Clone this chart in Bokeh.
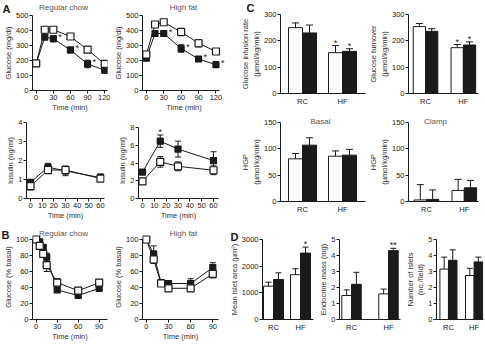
from bokeh.plotting import figure
from bokeh.layouts import row, column
from bokeh.models import (Range1d, FixedTicker, Whisker, TeeHead, ColumnDataSource,
                          LabelSet, GridBox)
from bokeh.core.properties import value
from bokeh.embed import file_html
from bokeh.resources import INLINE

FONT = "Liberation Sans"
INK = "#1a1a1a"
LABEL_INK = "#333333"
TITLE_INK = "#555555"

# ---------------- data ----------------
# A: glucose tolerance test (mg/dl)
gtt_time = [0, 15, 30, 60, 90, 120]
gtt_rc_ctrl = [181, 405, 405, 360, 272, 177]
gtt_rc_ctrl_err = [10, 12, 10, 12, 15, 15]
gtt_rc_mut = [180, 356, 345, 270, 177, 135]
gtt_rc_mut_err = [12, 15, 20, 20, 25, 20]
gtt_rc_sig = ["", "", "*", "*", "*", ""]
gtt_hf_ctrl = [240, 440, 455, 390, 315, 260]
gtt_hf_ctrl_err = [10, 12, 10, 25, 25, 20]
gtt_hf_mut = [215, 380, 380, 280, 210, 172]
gtt_hf_mut_err = [10, 20, 20, 25, 12, 8]
gtt_hf_sig = ["", "", "*", "*", "*", "*"]

# A: insulin during GTT (ng/ml)
ins_time = [0, 15, 30, 60]
ins_rc_ctrl = [0.65, 1.5, 1.5, 1.05]
ins_rc_ctrl_err = [0.2, 0.2, 0.2, 0.1]
ins_rc_mut = [0.85, 1.65, 1.45, 1.1]
ins_rc_mut_err = [0.15, 0.2, 0.25, 0.2]
ins_hf_ctrl = [1.95, 4.15, 3.65, 3.2]
ins_hf_ctrl_err = [0.3, 0.6, 0.5, 0.5]
ins_hf_mut = [3.0, 6.5, 5.6, 4.3]
ins_hf_mut_err = [0.2, 0.7, 0.9, 1.0]
ins_hf_sig = ["", "*", "", ""]

# B: insulin tolerance test (% basal)
itt_rc_time = [0, 5, 10, 15, 30, 60, 90]
itt_rc_ctrl = [100, 92, 82, 68, 46, 36, 46]
itt_rc_ctrl_err = [2, 3, 4, 8, 5, 3, 3]
itt_rc_mut = [100, 97, 90, 78, 37, 30, 39]
itt_rc_mut_err = [2, 3, 4, 5, 3, 2, 2]
itt_hf_time = [0, 10, 20, 30, 60, 90]
itt_hf_ctrl = [100, 75, 45, 39, 39, 57]
itt_hf_ctrl_err = [1, 5, 3, 3, 3, 5]
itt_hf_mut = [100, 82, 46, 45, 45, 65]
itt_hf_mut_err = [1, 10, 3, 3, 6, 6]

# C: clamp studies, D: islet morphometry
diet = ["RC", "HF"]
gir_ctrl, gir_ctrl_err = [250, 155], [18, 27]
gir_mut, gir_mut_err = [230, 160], [30, 10]
gir_sig_ctrl, gir_sig_mut = ["", "*"], ["", "*"]
turn_ctrl, turn_ctrl_err = [254, 174], [12, 12]
turn_mut, turn_mut_err = [236, 184], [10, 12]
turn_sig_ctrl, turn_sig_mut = ["", "*"], ["", "*"]
basal_ctrl, basal_ctrl_err = [81, 86], [10, 10]
basal_mut, basal_mut_err = [107, 88], [14, 11]
clamp_ctrl, clamp_ctrl_err = [3, 21], [29, 21]
clamp_mut, clamp_mut_err = [4, 26], [18, 14]
area_ctrl, area_ctrl_err = [1250, 1680], [150, 225]
area_mut, area_mut_err = [1500, 2490], [250, 225]
area_sig_mut = ["", "*"]
endo_ctrl, endo_ctrl_err = [1.5, 1.6], [0.35, 0.3]
endo_mut, endo_mut_err = [2.2, 4.3], [0.75, 0.15]
endo_sig_mut = ["", "**"]
num_ctrl, num_ctrl_err = [3.15, 2.75], [0.75, 0.45]
num_mut, num_mut_err = [3.7, 3.6], [0.65, 0.3]

# panel headings and letters
panel_letters = ["A", "B", "C", "D"]
diet_titles = ["Regular chow", "High fat"]
clamp_titles = ["Basal", "Clamp"]


# ---------------- helpers ----------------
def px_range(v0, p0, v1, p1, f0, f1):
    """Range whose frame edges (pixels f0, f1) map v0->p0 and v1->p1."""
    s = (p1 - p0) / (v1 - v0)
    return Range1d(v0 + (f0 - p0) / s, v0 + (f1 - p0) / s)


def base_fig(w, h, left, right, top, bottom, xr, yr):
    p = figure(width=w, height=h, x_range=xr, y_range=yr,
               min_border_left=left, min_border_right=right,
               min_border_top=top, min_border_bottom=bottom,
               output_backend="svg", toolbar_location=None)
    p.outline_line_color = None
    p.xgrid.visible = False
    p.ygrid.visible = False
    p.background_fill_color = "white"
    p.border_fill_color = "white"
    return p


def style(p, xticks, yticks, xlabel=None, ylabel=None, xlabels=None,
          xbounds=None, ybounds=None, bar=False):
    xa, ya = p.xaxis[0], p.yaxis[0]
    xa.ticker = FixedTicker(ticks=xticks)
    ya.ticker = FixedTicker(ticks=yticks)
    if xlabels is not None:
        xa.major_label_overrides = {t: s for t, s in zip(xticks, xlabels)}
    xa.axis_label = xlabel
    ya.axis_label = ylabel
    if xbounds is not None:
        xa.bounds = xbounds
    if ybounds is not None:
        ya.bounds = ybounds
    for ax in (xa, ya):
        ax.axis_line_color = INK
        ax.axis_line_width = 1
        ax.major_tick_line_color = INK
        ax.major_tick_out = 3
        ax.major_tick_in = 0
        ax.minor_tick_out = 0
        ax.minor_tick_in = 0
        ax.major_label_text_font = FONT
        ax.major_label_text_font_size = "7.5px"
        ax.major_label_text_color = INK
        ax.major_label_standoff = 1
        ax.axis_label_text_font = FONT
        ax.axis_label_text_font_size = "7.5px"
        ax.axis_label_text_font_style = "normal"
        ax.axis_label_text_color = LABEL_INK
        ax.axis_label_standoff = 0
    if bar:
        xa.major_tick_out = 0
        xa.major_label_standoff = 3


def stars(p, xs, ys, marks, align="center", baseline="bottom", dx=0, dy=-2, size="9px"):
    keep = [(x, y, s) for x, y, s in zip(xs, ys, marks) if s]
    if not keep:
        return
    src = ColumnDataSource(dict(x=[k[0] for k in keep], y=[k[1] for k in keep],
                                s=[k[2] for k in keep]))
    p.add_layout(LabelSet(x="x", y="y", text="s", source=src, x_offset=dx, y_offset=dy,
                          text_font=value(FONT), text_font_size=value(size),
                          text_color=INK, text_align=align, text_baseline=baseline))


def curve(p, t, mean, err, filled):
    lo = [m - e for m, e in zip(mean, err)]
    hi = [m + e for m, e in zip(mean, err)]
    src = ColumnDataSource(dict(t=t, m=mean, lo=lo, hi=hi))
    p.add_layout(Whisker(source=src, base="t", lower="lo", upper="hi", level="underlay",
                         line_color=INK, line_width=1,
                         lower_head=TeeHead(size=6, line_color=INK, line_width=1),
                         upper_head=TeeHead(size=6, line_color=INK, line_width=1)))
    p.line("t", "m", source=src, line_color=INK, line_width=1)
    p.scatter("t", "m", source=src, marker="square", size=6 if filled else 7,
              fill_color=INK if filled else "white", line_color=INK, line_width=1.2)


def line_panel(w, h, left, right, top, bottom, xr, yr, t, ctrl, ctrl_err, mut, mut_err,
               xticks, yticks, ylabel, ytop, xaxis_end=None, sig=None, sig_side=True):
    p = base_fig(w, h, left, right, top, bottom, xr, yr)
    curve(p, t, mut, mut_err, True)
    curve(p, t, ctrl, ctrl_err, False)
    style(p, xticks, yticks, "Time (min)", ylabel,
          xbounds=(xr.start, xaxis_end if xaxis_end is not None else xr.end),
          ybounds=(0, ytop))
    if sig is not None:
        if sig_side:
            stars(p, t, mut, sig, align="left", baseline="middle", dx=5, dy=2)
        else:
            stars(p, t, [m + e for m, e in zip(mut, mut_err)], sig)
    return p


def bar_panel(w, h, left, right, top, bottom, xr, ytop, yticks, ylabel,
              ctrl, ctrl_err, mut, mut_err, bar_px, spacing_px, cap,
              sig_ctrl=None, sig_mut=None):
    p = base_fig(w, h, left, right, top, bottom, xr, Range1d(0, ytop))
    bw = bar_px / spacing_px
    pos = list(range(len(diet)))
    xs_c = [i - bw / 2 for i in pos]
    xs_m = [i + bw / 2 for i in pos]
    p.vbar(x=xs_c, top=ctrl, bottom=0, width=bw, fill_color="white",
           line_color=INK, line_width=1)
    p.vbar(x=xs_m, top=mut, bottom=0, width=bw, fill_color=INK,
           line_color=INK, line_width=1)
    for xs, m, e, sig in ((xs_c, ctrl, ctrl_err, sig_ctrl), (xs_m, mut, mut_err, sig_mut)):
        hi = [a + b for a, b in zip(m, e)]
        src = ColumnDataSource(dict(x=xs, lo=m, hi=hi))
        p.add_layout(Whisker(source=src, base="x", lower="lo", upper="hi",
                             line_color=INK, line_width=1, lower_head=None,
                             upper_head=TeeHead(size=cap, line_color=INK, line_width=1)))
        if sig is not None:
            stars(p, xs, hi, sig)
    style(p, pos, yticks, None, ylabel, xlabels=diet, bar=True)
    return p


# ---------------- A: glucose ----------------
GT = [0, 30, 60, 90, 120]
GY = [0, 100, 200, 300, 400, 500]
gA_rc = line_panel(110, 114, 26, 3, 15, 22, px_range(0, 30, 120, 104, 26, 107), Range1d(0, 500),
                   gtt_time, gtt_rc_ctrl, gtt_rc_ctrl_err, gtt_rc_mut, gtt_rc_mut_err,
                   GT, GY, "Glucose (mg/dl)", 500, sig=gtt_rc_sig)
xr = px_range(0, 142, 120, 215, 138, 225)
gA_hf = line_panel(116, 114, 28, 1, 15, 22, xr, Range1d(0, 500),
                   gtt_time, gtt_hf_ctrl, gtt_hf_ctrl_err, gtt_hf_mut, gtt_hf_mut_err,
                   GT, GY, "Glucose (mg/dl)", 500, xaxis_end=126, sig=gtt_hf_sig)

# ---------------- A: insulin ----------------
IT = [0, 10, 20, 30, 40, 50, 60]
iA_rc = line_panel(110, 108, 26, 6, 8, 22, px_range(0, 30, 60, 100, 26, 104), Range1d(0, 4),
                   ins_time, ins_rc_ctrl, ins_rc_ctrl_err, ins_rc_mut, ins_rc_mut_err,
                   IT, [0, 1, 2, 3, 4], "Insulin (ng/ml)", 4)
iA_hf = line_panel(116, 108, 28, 8, 2, 22, px_range(0, 142, 60, 213, 138, 218),
                   px_range(0, 200, 8, 122, 200, 116),
                   ins_time, ins_hf_ctrl, ins_hf_ctrl_err, ins_hf_mut, ins_hf_mut_err,
                   IT, [0, 2, 4, 6, 8], "Insulin (ng/ml)", 8,
                   sig=ins_hf_sig, sig_side=False)

# ---------------- B: insulin tolerance ----------------
BT = [0, 30, 60, 90]
BY = [0, 20, 40, 60, 80, 100]
B_rc = line_panel(110, 123, 26, 3, 12, 26, px_range(0, 30, 90, 98, 26, 107),
                  px_range(0, 319, 100, 239, 319, 234),
                  itt_rc_time, itt_rc_ctrl, itt_rc_ctrl_err, itt_rc_mut, itt_rc_mut_err,
                  BT, BY, "Glucose (% basal)", 100)
B_hf = line_panel(116, 123, 28, 8, 12, 26, px_range(0, 142, 90, 212, 138, 218),
                  px_range(0, 319, 100, 239, 319, 234),
                  itt_hf_time, itt_hf_ctrl, itt_hf_ctrl_err, itt_hf_mut, itt_hf_mut_err,
                  BT, BY, "Glucose (% basal)", 100)

# ---------------- C: clamp ----------------
UMOL = "(\u00b5mol/kg/min)"
gir = bar_panel(140, 108, 54, 1, 14, 14, px_range(0, 302, 1, 342, 280, 365), 300,
                [0, 100, 200, 300], "Glucose infusion rate\n" + UMOL,
                gir_ctrl, gir_ctrl_err, gir_mut, gir_mut_err, 14, 40, 7,
                gir_sig_ctrl, gir_sig_mut)
turn = bar_panel(119, 108, 38, 7, 14, 14, px_range(0, 422, 1, 462, 404, 478), 300,
                 [0, 100, 200, 300], "Glucose turnover\n" + UMOL,
                 turn_ctrl, turn_ctrl_err, turn_mut, turn_mut_err, 13, 40, 7,
                 turn_sig_ctrl, turn_sig_mut)
basal = bar_panel(140, 109, 54, 1, 14, 16, px_range(0, 302, 1, 342, 280, 365), 150,
                  [0, 50, 100, 150], "HGP\n" + UMOL,
                  basal_ctrl, basal_ctrl_err, basal_mut, basal_mut_err, 14, 40, 7)
clamp = bar_panel(119, 109, 38, 7, 14, 16, px_range(0, 423, 1, 463, 404, 478), 150,
                  [0, 50, 100, 150], "HGP\n" + UMOL,
                  clamp_ctrl, clamp_ctrl_err, clamp_mut, clamp_mut_err, 13, 40, 7)

# ---------------- D: islets ----------------
area = bar_panel(90, 128, 36, 3, 22, 26, px_range(0, 273, 1, 300, 262, 313), 3000,
                 [0, 1000, 2000, 3000], "Mean islet area (\u00b5m\u00b2)",
                 area_ctrl, area_ctrl_err, area_mut, area_mut_err, 10, 27, 6,
                 None, area_sig_mut)
endo = bar_panel(86, 128, 18, 2, 22, 26, px_range(0, 347, 1, 387, 334, 400), 5,
                 [0, 1, 2, 3, 4, 5], "Endocrine mass (mg)",
                 endo_ctrl, endo_ctrl_err, endo_mut, endo_mut_err, 10.5, 40, 6,
                 None, endo_sig_mut)
num = bar_panel(83, 128, 26, 2, 22, 26, px_range(0, 442, 1, 472, 428, 483), 5,
                [0, 1, 2, 3, 4, 5], "Number of islets\n(no./field)",
                num_ctrl, num_ctrl_err, num_mut, num_mut_err, 10, 30, 6)

left = column(row(gA_rc, gA_hf), row(iA_rc, iA_hf), row(B_rc, B_hf))
right = column(row(gir, turn), row(basal, clamp), row(area, endo, num))
panels = row(left, right)

# ---------------- headings layer (page pixel coordinates, y down) ----------------
heads = figure(width=485, height=345, x_range=Range1d(0, 485), y_range=Range1d(345, 0),
               x_axis_type=None, y_axis_type=None, min_border=0,
               output_backend="svg", toolbar_location=None)
heads.outline_line_color = None
heads.background_fill_color = None
heads.border_fill_color = None
heads.text(x=[2, 1, 246, 230], y=[2, 228, 1, 230], text=panel_letters,
           text_font=value(FONT), text_font_size=value("11px"), text_font_style="bold",
           text_color=INK, text_align="left", text_baseline="top")
heads.text(x=[63, 183, 63, 183], y=[7, 7, 233, 233], text=diet_titles * 2,
           text_font=value(FONT), text_font_size=value("8px"),
           text_color=TITLE_INK, text_align="center", text_baseline="middle")
heads.text(x=[320, 435], y=[121, 121], text=clamp_titles,
           text_font=value(FONT), text_font_size=value("8px"),
           text_color=TITLE_INK, text_align="center", text_baseline="middle")

page = GridBox(children=[(panels, 0, 0), (heads, 0, 0)])

open("out.html", "w").write(file_html(page, INLINE))
